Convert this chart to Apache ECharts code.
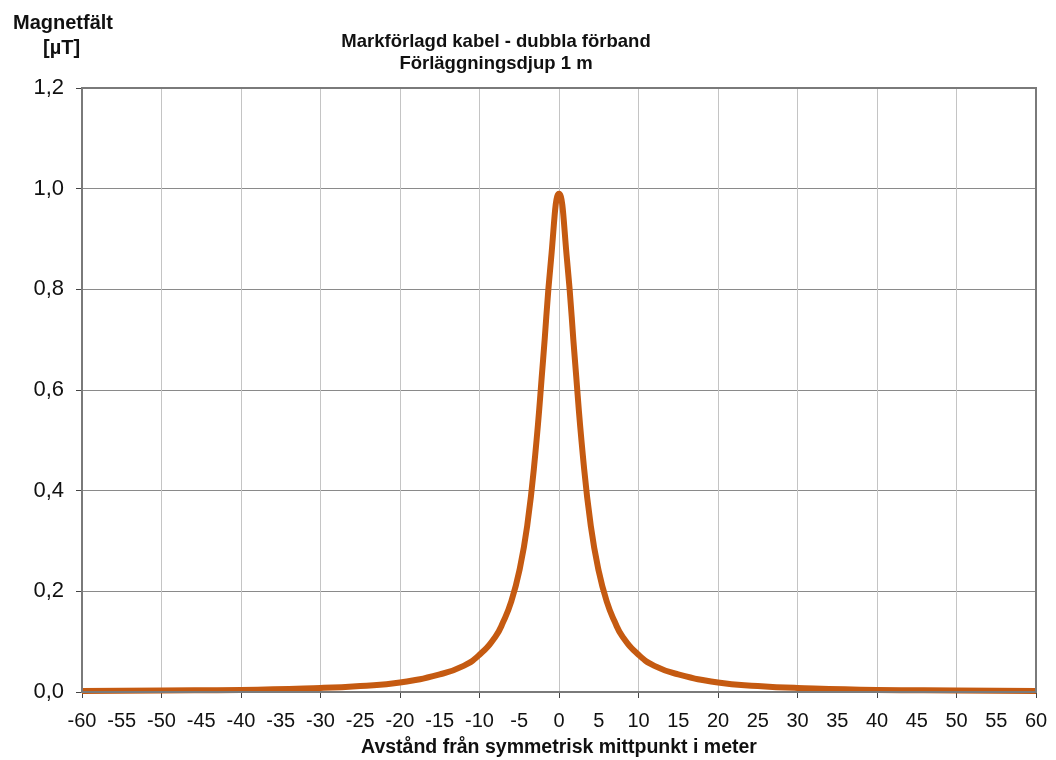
<!DOCTYPE html>
<html>
<head>
<meta charset="utf-8">
<script src="https://cdn.jsdelivr.net/npm/echarts@6/dist/echarts.min.js"></script>
<style>
  html, body { margin: 0; padding: 0; background: #fff; }
  #chart { width: 1056px; height: 760px; }
</style>
</head>
<body>
<div id="chart"></div>
<script>
// distance from midpoint (m) and field (µT)
const distance = [-60, -50, -40, -30, -25, -20, -15, -12, -10, -8, -7, -6, -5, -4, -3, -2, -1, 0,
  1, 2, 3, 4, 5, 6, 7, 8, 10, 12, 15, 20, 25, 30, 40, 50, 60];
const field = [0.002, 0.003, 0.004, 0.008, 0.012, 0.019, 0.035, 0.052, 0.074, 0.11, 0.14, 0.18, 0.24, 0.33, 0.47, 0.66, 0.86, 0.99,
  0.86, 0.66, 0.47, 0.33, 0.24, 0.18, 0.14, 0.11, 0.074, 0.052, 0.035, 0.019, 0.012, 0.008, 0.004, 0.003, 0.002];

const titleLines = ['Markförlagd kabel - dubbla förband', 'Förläggningsdjup 1 m'];
const yName = ['Magnetfält', '[µT]'];
const xName = 'Avstånd från symmetrisk mittpunkt i meter';

const font = 'Liberation Sans, Arial, sans-serif';

const chart = echarts.init(document.getElementById('chart'));

const option = {
  backgroundColor: '#fff',
  animation: false,
  title: {
    text: titleLines.join('\n'),
    left: 491,
    top: 26,
    textAlign: 'center',
    textStyle: { fontFamily: font, fontSize: 18.5, fontWeight: 'bold', color: '#111', lineHeight: 22 }
  },
  graphic: [
    {
      type: 'text', left: 13, top: 13,
      style: { text: yName[0], font: 'bold 20px ' + font, fill: '#111' }
    },
    {
      type: 'text', left: 43, top: 38,
      style: { text: yName[1], font: 'bold 20px ' + font, fill: '#111' }
    },
    {
      type: 'rect', shape: { x: 82, y: 88, width: 954, height: 604 },
      style: { fill: 'none', stroke: '#7a7a7a', lineWidth: 2 }, z: 10
    }
  ],
  grid: { left: 82, right: 20, top: 88, bottom: 68, containLabel: false, outerBoundsMode: 'none' },
  xAxis: [
    {
      type: 'value', min: -60, max: 60, interval: 5,
      name: xName, nameLocation: 'middle', nameGap: 46,
      nameTextStyle: { fontFamily: font, fontSize: 19.5, fontWeight: 'bold', color: '#111' },
      axisLine: { show: true, onZero: false, lineStyle: { color: '#444', width: 2 } },
      axisTick: { show: false },
      axisLabel: { fontFamily: font, fontSize: 20, color: '#111', margin: 19, formatter: v => String(v) },
      splitLine: { show: false }
    },
    {
      type: 'value', min: -60, max: 60, interval: 10, position: 'bottom',
      axisLine: { show: false, onZero: false },
      axisTick: { show: true, inside: false, length: 6, lineStyle: { color: '#444' } },
      axisLabel: { show: false },
      splitLine: { show: true, lineStyle: { color: '#c4c4c4', width: 1 } }
    }
  ],
  yAxis: {
    type: 'value', min: 0, max: 1.2, interval: 0.2,
    axisLine: { show: true, onZero: false, lineStyle: { color: '#444', width: 2 } },
    axisTick: { show: true, length: 6, lineStyle: { color: '#444' } },
    axisLabel: { fontFamily: font, fontSize: 22, color: '#111', margin: 18,
      formatter: v => v.toFixed(1).replace('.', ',') },
    splitLine: { show: true, lineStyle: { color: '#8a8a8a', width: 1 } }
  },
  series: [{
    type: 'line',
    xAxisIndex: 0,
    data: distance.map((d, i) => [d, field[i]]),
    smooth: 0.5,
    showSymbol: false,
    lineStyle: { color: '#c55a11', width: 6 },
    z: 5
  }]
};

chart.setOption(option);
</script>
</body>
</html>
